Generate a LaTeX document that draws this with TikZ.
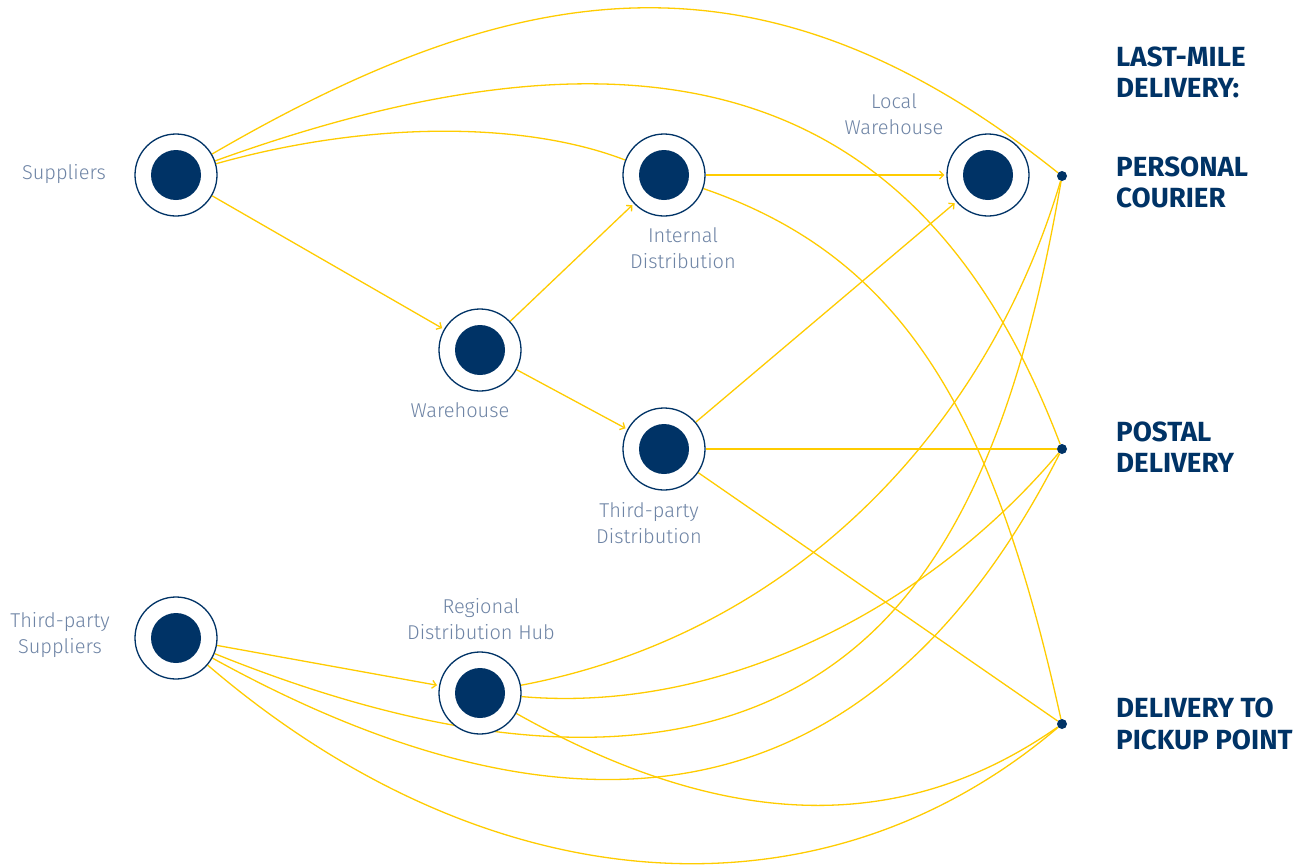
\documentclass[tikz,border=0pt]{standalone}
\usepackage{fontspec}
\usetikzlibrary{arrows.meta,backgrounds}
\IfFontExistsTF{Fira Sans Light}{\newfontfamily\labfont{Fira Sans Light}}{\newfontfamily\labfont{Fira Sans}}
\newfontfamily\headfont{Fira Sans}
\definecolor{navy}{RGB}{0,51,102}
\definecolor{gold}{RGB}{255,204,0}
\definecolor{labgrey}{RGB}{110,132,165}
\tikzset{
  hubnode/.style={circle, draw=navy, line width=1.3pt, fill=white, minimum size=82pt, inner sep=0pt,
    path picture={\fill[navy] (path picture bounding box.center) circle (25pt);}},
  enddot/.style={circle, fill=navy, minimum size=10pt, inner sep=0pt},
  flow/.style={draw=gold, line width=1.3pt},
  arr/.style={flow, -{Straight Barb[length=4pt,width=8pt]}, shorten >=2pt},
  lab/.style={font=\labfont\fontsize{20}{26}\selectfont, text=labgrey, align=center},
  head/.style={font=\headfont\bfseries\fontsize{27.7}{31.5}\selectfont, text=navy, align=left, anchor=west, inner sep=0pt}
}
\begin{document}
\begin{tikzpicture}[x=1pt,y=-1pt]
\useasboundingbox (0,0) rectangle (1304,865);
% hubs
\node[hubnode] (S)  at (176,175) {};
\node[hubnode] (ID) at (664,175) {};
\node[hubnode] (LW) at (988,175) {};
\node[hubnode] (W)  at (480,350) {};
\node[hubnode] (TD) at (664,449) {};
\node[hubnode] (TS) at (176,638) {};
\node[hubnode] (RH) at (480,693) {};
% end points
\node[enddot] (PC) at (1062,176) {};
\node[enddot] (PD) at (1062,449) {};
\node[enddot] (PP) at (1062,724) {};
\coordinate (tspc) at (893,611);
% labels
\node[lab] (lS)  at (64,174) {Suppliers};
\node[lab] (lID) at (683,248) {Internal\\Distribution};
\node[lab] (lLW) at (894,114) {Local\\Warehouse};
\node[lab] (lW)  at (460,410) {Warehouse};
\node[lab] (lTD) at (649,523) {Third-party\\Distribution};
\node[lab] (lTS) at (60,635) {Third-party\\Suppliers};
\node[lab] (lRH) at (481,619) {Regional\\Distribution Hub};
% headings
\node[head] (hLM) at (1116,72.5) {LAST-MILE\\DELIVERY:};
\node[head] (hPC) at (1116,182.5) {PERSONAL\\COURIER};
\node[head] (hPD) at (1116,447) {POSTAL\\DELIVERY};
\node[head] (hPP) at (1116,724) {DELIVERY TO\\PICKUP POINT};
\begin{pgfonlayer}{background}
\fill[white] (0,0) rectangle (1304,865);
\draw[arr] (S) -- (W);
\draw[flow] (S) .. controls (520,-25) and (763,-63) .. (PC);
\draw[flow] (S) .. controls (683,-8) and (932,107) .. (PD);
\draw[flow] (S) .. controls (368,121) and (524,121) .. (ID);
\draw[arr] (W) -- (ID);
\draw[arr] (W) -- (TD);
\draw[arr] (ID) -- (LW);
\draw[flow] (ID) .. controls (899,256) and (992,405) .. (PP);
\draw[arr] (TD) -- (LW);
\draw[flow] (TD) -- (PD);
\draw[flow] (TD) -- (PP);
\draw[arr] (TS) -- (RH);
\draw[flow] (TS) .. controls (485,763) and (739,781) .. (tspc) .. controls (993.5,500) and (1035.5,327.6) .. (PC);
\draw[flow] (TS) .. controls (653,901) and (908,752) .. (PD);
\draw[flow] (TS) .. controls (489,906) and (821,929) .. (PP);
\draw[flow] (RH) .. controls (802,632) and (990,420) .. (PC);
\draw[flow] (RH) .. controls (723,714) and (928,608) .. (PD);
\draw[flow] (RH) .. controls (697,815) and (882,850) .. (PP);
\end{pgfonlayer}
\end{tikzpicture}
\end{document}
